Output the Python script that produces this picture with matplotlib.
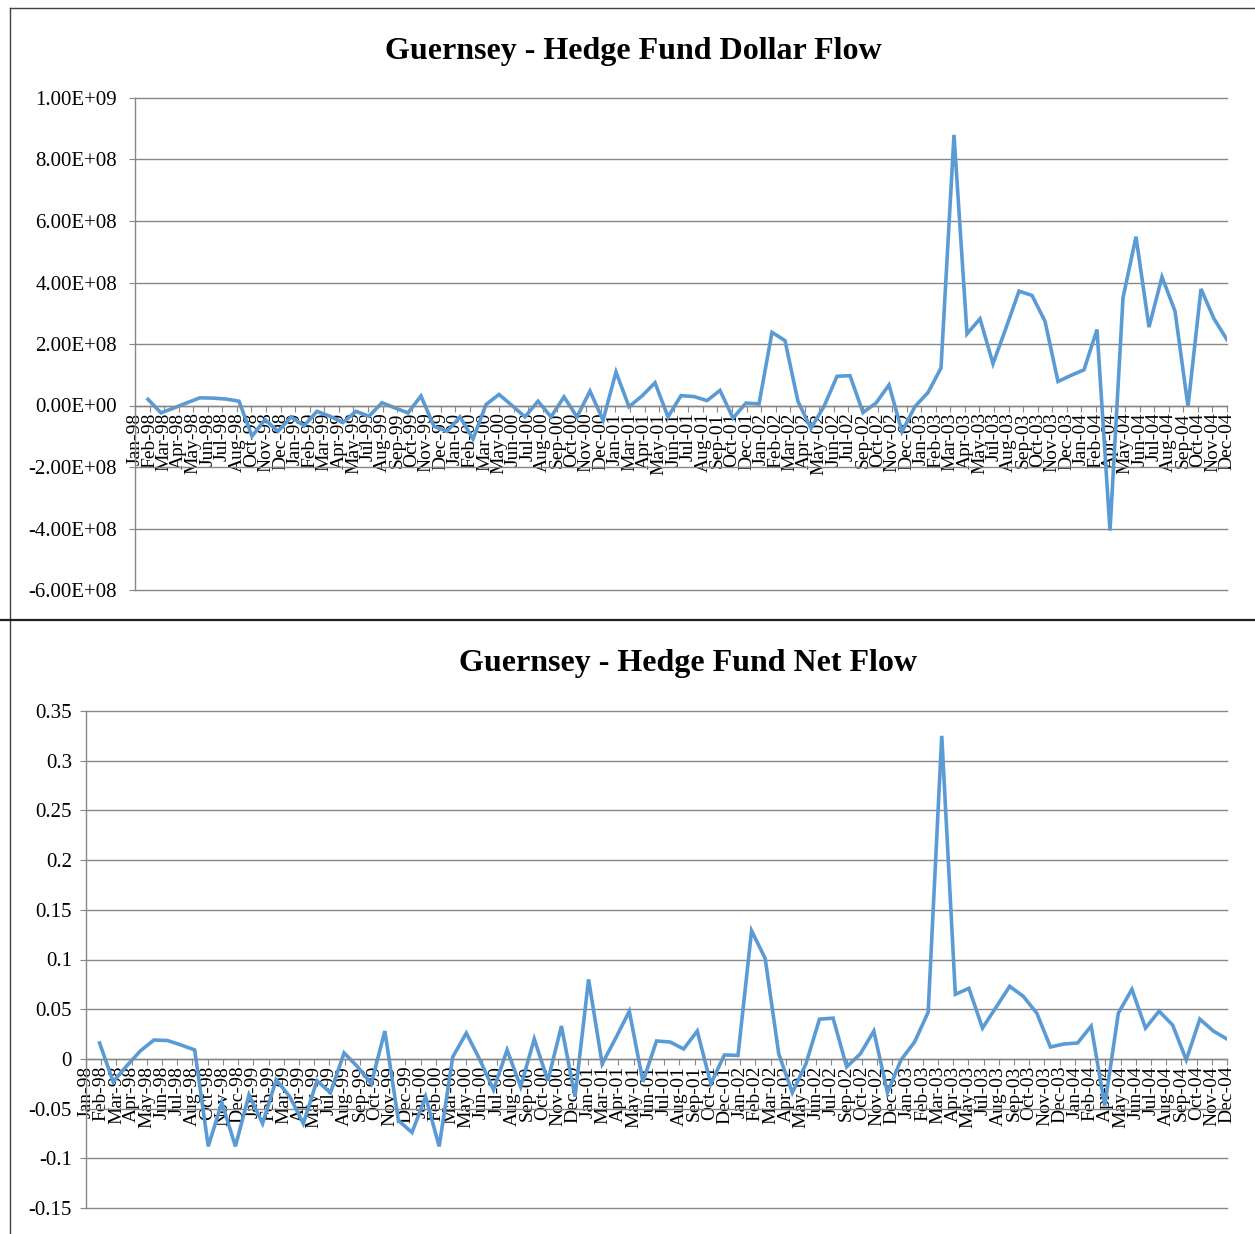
import matplotlib as mpl
mpl.use('Agg')
import matplotlib.pyplot as plt
from matplotlib.lines import Line2D
from matplotlib.ticker import FixedLocator, FuncFormatter
import numpy as np

W, H = 1255, 1234

ticklabels = ['Jan-98', 'Feb-98', 'Mar-98', 'Apr-98', 'May-98', 'Jun-98', 'Jul-98', 'Aug-98', 'Oct-98', 'Nov-98', 'Dec-98',
              'Jan-99', 'Feb-99', 'Mar-99', 'Apr-99', 'May-99', 'Jul-99', 'Aug-99', 'Sep-99', 'Oct-99', 'Nov-99', 'Dec-99',
              'Jan-00', 'Feb-00', 'Mar-00', 'May-00', 'Jun-00', 'Jul-00', 'Aug-00', 'Sep-00', 'Oct-00', 'Nov-00', 'Dec-00',
              'Jan-01', 'Mar-01', 'Apr-01', 'May-01', 'Jun-01', 'Jul-01', 'Aug-01', 'Sep-01', 'Oct-01', 'Dec-01',
              'Jan-02', 'Feb-02', 'Mar-02', 'Apr-02', 'May-02', 'Jun-02', 'Jul-02', 'Sep-02', 'Oct-02', 'Nov-02', 'Dec-02',
              'Jan-03', 'Feb-03', 'Mar-03', 'Apr-03', 'May-03', 'Jul-03', 'Aug-03', 'Sep-03', 'Oct-03', 'Nov-03', 'Dec-03',
              'Jan-04', 'Feb-04', 'Apr-04', 'May-04', 'Jun-04', 'Jul-04', 'Aug-04', 'Sep-04', 'Oct-04', 'Nov-04', 'Dec-04']

# monthly dollar flow, Jan-98 .. Dec-04
dollarflow = [0.20e8, -0.24e8, -0.08e8, 0.09e8, 0.25e8, 0.24e8, 0.21e8, 0.14e8, -1.00e8, -0.46e8, -0.84e8, -0.37e8,
              -0.66e8, -0.19e8, -0.35e8, -0.55e8, -0.19e8, -0.35e8, 0.09e8, -0.08e8, -0.24e8, 0.31e8, -0.68e8, -0.84e8,
              -0.37e8, -1.09e8, 0.03e8, 0.36e8, 0.00e8, -0.37e8, 0.14e8, -0.37e8, 0.28e8, -0.37e8, 0.47e8, -0.48e8,
              1.09e8, -0.04e8, 0.31e8, 0.74e8, -0.37e8, 0.32e8, 0.29e8, 0.16e8, 0.49e8, -0.41e8, 0.08e8, 0.05e8,
              2.38e8, 2.11e8, 0.13e8, -0.74e8, -0.03e8, 0.95e8, 0.97e8, -0.23e8, 0.08e8, 0.67e8, -0.85e8, -0.03e8,
              0.42e8, 1.22e8, 8.80e8, 2.33e8, 2.82e8, 1.36e8, 2.52e8, 3.72e8, 3.58e8, 2.74e8, 0.78e8, 0.98e8,
              1.16e8, 2.47e8, -4.07e8, 3.50e8, 5.49e8, 2.55e8, 4.18e8, 3.07e8, -0.03e8, 3.79e8, 2.82e8, 2.14e8]

# monthly net flow, Jan-98 .. Dec-04
netflow = [0.016, -0.023, -0.007, 0.008, 0.019, 0.0185, 0.014, 0.009, -0.088, -0.044, -0.088, -0.036,
           -0.065, -0.021, -0.038, -0.065, -0.022, -0.034, 0.006, -0.008, -0.025, 0.028, -0.062, -0.074,
           -0.038, -0.088, 0.002, 0.026, -0.001, -0.031, 0.009, -0.028, 0.020, -0.022, 0.033, -0.038,
           0.080, -0.005, 0.021, 0.048, -0.023, 0.018, 0.017, 0.010, 0.028, -0.025, 0.004, 0.0035,
           0.129, 0.101, 0.005, -0.034, -0.005, 0.040, 0.041, -0.008, 0.005, 0.028, -0.034, -0.001,
           0.017, 0.047, 0.325, 0.065, 0.071, 0.031, 0.052, 0.073, 0.063, 0.046, 0.012, 0.015,
           0.016, 0.033, -0.047, 0.046, 0.070, 0.031, 0.048, 0.034, -0.001, 0.040, 0.028, 0.020]

dollar_ticks = [-6e8, -4e8, -2e8, 0, 2e8, 4e8, 6e8, 8e8, 1e9]
net_ticks = [-0.15, -0.1, -0.05, 0, 0.05, 0.1, 0.15, 0.2, 0.25, 0.3, 0.35]

# points sit at month ends, labels spread evenly along the date axis
months = np.arange(1, len(dollarflow) + 1)
labelpos = np.linspace(0, len(dollarflow), len(ticklabels))

plt.rcParams['font.family'] = ['Liberation Serif', 'DejaVu Serif']
blue = '#5B9BD5'
grey = '#878787'

fig = plt.figure(figsize=(W / 100, H / 100), dpi=100)


def box(x0, y0, x1, y1):
    return [x0 / W, 1 - y1 / H, (x1 - x0) / W, (y1 - y0) / H]


def setup(ax, yticks, fmt, ypad):
    # x axis crosses at zero, so move the spine first (it resets tick styling)
    ax.spines['bottom'].set_position(('data', 0))
    ax.spines['top'].set_visible(False)
    ax.spines['right'].set_visible(False)
    for s in ('left', 'bottom'):
        ax.spines[s].set_color(grey)
        ax.spines[s].set_linewidth(1.0)
    ax.set_xlim(0, len(dollarflow))
    ax.set_ylim(yticks[0], yticks[-1])
    ax.yaxis.set_major_locator(FixedLocator(yticks))
    ax.yaxis.set_major_formatter(FuncFormatter(fmt))
    ax.set_xticks(labelpos)
    ax.set_xticklabels(ticklabels)
    ax.yaxis.grid(True, color=grey, lw=1.0)
    ax.set_axisbelow(True)
    ax.tick_params(axis='y', direction='out', length=4, color=grey, labelsize=15, pad=ypad)
    ax.tick_params(axis='x', direction='out', length=4, color=grey, labelsize=14, pad=1,
                   labelrotation=90)
    # keep the outermost gridlines whole at the axes edges
    for t in ax.yaxis.get_major_ticks():
        t.gridline.set_clip_on(False)


ax1 = fig.add_axes(box(135, 98, 1227, 590))
setup(ax1, dollar_ticks, lambda v, p: '{:.2E}'.format(v), 9)
ax1.plot(months, dollarflow, color=blue, lw=2.6, solid_joinstyle='miter')

ax2 = fig.add_axes(box(86, 711, 1227, 1208))
setup(ax2, net_ticks, lambda v, p: '{:g}'.format(round(v, 2)), 6)
ax2.plot(months, netflow, color=blue, lw=2.6, solid_joinstyle='miter')

fig.text(633 / W, 1 - 52 / H, 'Guernsey - Hedge Fund Dollar Flow', ha='center', va='center',
         fontsize=23, fontweight='bold')
fig.text(688 / W, 1 - 664 / H, 'Guernsey - Hedge Fund Net Flow', ha='center', va='center',
         fontsize=23, fontweight='bold')


# chart frames
def pline(xs, ys, **kw):
    fig.add_artist(Line2D([x / W for x in xs], [1 - y / H for y in ys], transform=fig.transFigure, **kw))


pline([10, 10], [8, 1234], color='#404040', lw=1.0)
pline([10, W], [8, 8], color='#404040', lw=1.0)
pline([0, W], [620, 620], color='#202020', lw=1.6)

fig.savefig('out.png', dpi=100)
